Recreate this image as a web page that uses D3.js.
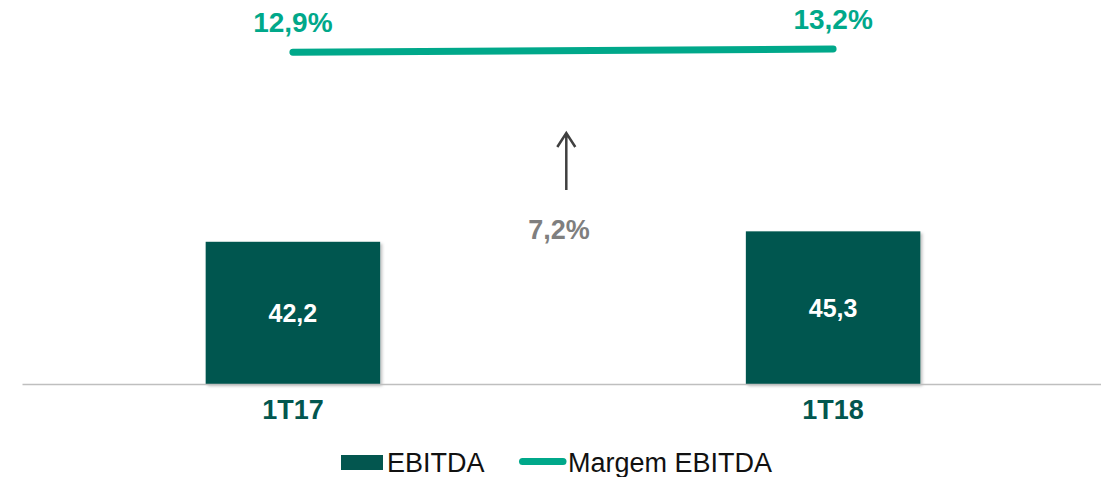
<!DOCTYPE html>
<html>
<head>
<meta charset="utf-8">
<script src="https://cdn.jsdelivr.net/npm/d3@7"></script>
<style>
  html, body { margin: 0; padding: 0; background: #fff; }
  svg { display: block; font-family: "Liberation Sans", Arial, sans-serif; }
</style>
</head>
<body>
<svg id="chart" width="1101" height="477"></svg>
<script>
const categories = ["1T17", "1T18"];
const ebitda = [42.2, 45.3];
const margem = [12.9, 13.2];
const ebitdaLabels = ["42,2", "45,3"];
const margemLabels = ["12,9%", "13,2%"];
const growthLabel = "7,2%";
const legendLabels = ["EBITDA", "Margem EBITDA"];

const colBar = "#03564f";
const colLine = "#00a88a";
const colGray = "#7f7f7f";

const svg = d3.select("#chart");

const x = d3.scaleBand().domain(categories).range([22, 1104]).paddingInner(0.677).paddingOuter(0.34);
const y = d3.scaleLinear().domain([0, 100]).range([384, 47]);
const yM = d3.scaleLinear().domain([12, 14]).range([62.2, 40.2]);

const defs = svg.append("defs");
const f = defs.append("filter").attr("id", "shadow").attr("x", "-10%").attr("y", "-10%").attr("width", "130%").attr("height", "130%");
f.append("feDropShadow").attr("dx", 2).attr("dy", 2).attr("stdDeviation", 1.5).attr("flood-color", "#000").attr("flood-opacity", 0.25);

// Bars
svg.append("g").selectAll("rect").data(categories).join("rect")
  .attr("x", d => x(d))
  .attr("y", (d, i) => y(ebitda[i]))
  .attr("width", x.bandwidth())
  .attr("height", (d, i) => y(0) - y(ebitda[i]))
  .attr("fill", colBar)
  .attr("filter", "url(#shadow)");

// Bar value labels
svg.append("g").selectAll("text").data(categories).join("text")
  .attr("x", d => x(d) + x.bandwidth() / 2)
  .attr("y", (d, i) => (y(0) + y(ebitda[i])) / 2 + 9)
  .attr("text-anchor", "middle")
  .attr("fill", "#fff")
  .attr("font-weight", "bold")
  .attr("font-size", 25)
  .text((d, i) => ebitdaLabels[i]);

// Axis
const axis = svg.append("g").attr("transform", `translate(0,${y(0)})`)
  .call(d3.axisBottom(x).tickSize(0).tickPadding(16));
axis.select(".domain").attr("stroke", "#bfbfbf").attr("stroke-width", 1.5);
axis.selectAll("text")
  .attr("font-family", "'Liberation Sans', Arial, sans-serif")
  .attr("font-size", 27).attr("font-weight", "bold").attr("fill", colBar);

// Margin line
const line = d3.line().x((d, i) => x(categories[i]) + x.bandwidth() / 2).y(d => yM(d));
svg.append("path").datum(margem)
  .attr("d", line)
  .attr("fill", "none")
  .attr("stroke", colLine)
  .attr("stroke-width", 7)
  .attr("stroke-linecap", "round");

svg.append("g").selectAll("text").data(margem).join("text")
  .attr("x", (d, i) => x(categories[i]) + x.bandwidth() / 2)
  .attr("y", d => yM(d) - 20)
  .attr("text-anchor", "middle")
  .attr("fill", colLine)
  .attr("font-weight", "bold")
  .attr("font-size", 28)
  .text((d, i) => margemLabels[i]);

// Growth arrow
const cx1 = x(categories[0]) + x.bandwidth() / 2;
const cx2 = x(categories[1]) + x.bandwidth() / 2;
const mid = (cx1 + cx2) / 2;
const ax = mid + 3.3;
const aTop = 132, aBot = 190;
svg.append("path")
  .attr("d", `M${ax},${aBot}L${ax},${aTop + 1}M${ax - 9},${aTop + 15}L${ax},${aTop + 1}L${ax + 9},${aTop + 15}`)
  .attr("fill", "none")
  .attr("stroke", "#404040")
  .attr("stroke-width", 2.5);

svg.append("text")
  .attr("x", mid - 4)
  .attr("y", 239)
  .attr("text-anchor", "middle")
  .attr("fill", colGray)
  .attr("font-weight", "bold")
  .attr("font-size", 27)
  .text(growthLabel);

// Legend
const lg = svg.append("g");
lg.append("rect").attr("x", 341).attr("y", 455).attr("width", 42).attr("height", 15).attr("fill", colBar);
lg.append("text").attr("x", 387).attr("y", 471.5).attr("font-size", 27).attr("fill", "#111").text(legendLabels[0]);
lg.append("line").attr("x1", 522.5).attr("x2", 563).attr("y1", 461.5).attr("y2", 461.5)
  .attr("stroke", colLine).attr("stroke-width", 7).attr("stroke-linecap", "round");
lg.append("text").attr("x", 568).attr("y", 471.5).attr("font-size", 27).attr("fill", "#111").text(legendLabels[1]);
</script>
</body>
</html>
